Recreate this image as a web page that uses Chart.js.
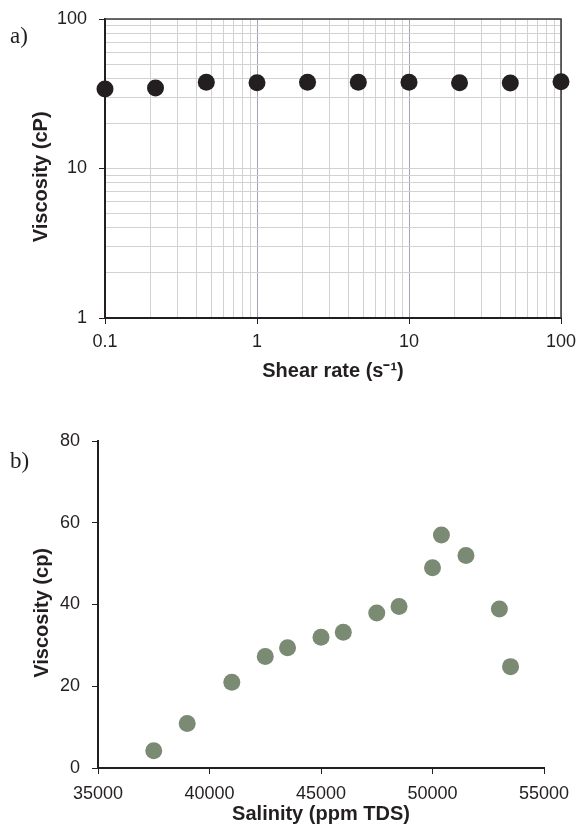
<!DOCTYPE html>
<html>
<head>
<meta charset="utf-8">
<script src="https://cdn.jsdelivr.net/npm/chart.js@4.4.0/dist/chart.umd.min.js"></script>
<style>
  body { margin: 0; background: #fff; }
  canvas { display: block; }
</style>
</head>
<body>
<canvas id="shearChart" width="577" height="400"></canvas>
<canvas id="salinityChart" width="577" height="433"></canvas>
<script>
// a) viscosity vs shear rate (log-log)
var shearRate = [0.1, 0.215, 0.464, 1, 2.15, 4.64, 10, 21.5, 46.4, 100];
var viscosityA = [34.0, 34.5, 37.7, 37.5, 37.7, 37.7, 37.7, 37.5, 37.3, 38.1];
var shearDecades = [0.1, 1, 10, 100];
var viscDecades = [1, 10, 100];

// b) viscosity vs salinity
var salinity = [37500, 39000, 41000, 42500, 43500, 45000, 46000, 47500, 48500, 50000, 50400, 51500, 53000, 53500];
var viscosityB = [4.2, 10.9, 21.0, 27.3, 29.4, 32.0, 33.2, 37.9, 39.5, 49.0, 57.0, 52.0, 38.9, 24.8];
var salinityTicks = [35000, 40000, 45000, 50000, 55000];
var viscTicksB = [0, 20, 40, 60, 80];

Chart.defaults.font.family = "'Liberation Sans', Arial, sans-serif";
Chart.defaults.color = '#231f20';

var INK = '#231f20';

// minor log gridlines: 1..9 times each decade
function logGrid(decades) {
  var out = [];
  for (var i = 0; i < decades.length - 1; i++) {
    for (var k = 1; k < 10; k++) out.push(decades[i] * k);
  }
  out.push(decades[decades.length - 1]);
  return out;
}

function isIn(list, v) {
  for (var i = 0; i < list.length; i++) {
    if (Math.abs(list[i] - v) < 1e-9) return true;
  }
  return false;
}

// fixed axis box, no extra label overhang padding
function fixBox(size) {
  return function (axis) {
    if (axis.isHorizontal()) axis.height = size; else axis.width = size;
    axis.paddingTop = 0;
    axis.paddingBottom = 0;
    axis.paddingLeft = 0;
    axis.paddingRight = 0;
  };
}

// panel letter a) / b)
var panelLabel = {
  id: 'panelLabel',
  afterDraw: function (chart, args, opts) {
    var c = chart.ctx;
    c.save();
    c.font = "23px 'Liberation Serif', 'Times New Roman', serif";
    c.fillStyle = INK;
    c.textBaseline = 'alphabetic';
    c.fillText(opts.text, opts.x, opts.y);
    c.restore();
  }
};

// top/right border of plot a)
var frame = {
  id: 'frame',
  beforeDatasetsDraw: function (chart) {
    var a = chart.chartArea, c = chart.ctx;
    c.save();
    c.strokeStyle = '#3b3b3b';
    c.lineWidth = 1.5;
    c.beginPath();
    c.moveTo(a.left, a.top);
    c.lineTo(a.right, a.top);
    c.lineTo(a.right, a.bottom);
    c.stroke();
    c.restore();
  }
};

new Chart(document.getElementById('shearChart'), {
  type: 'scatter',
  data: {
    datasets: [{
      data: shearRate.map(function (x, i) { return { x: x, y: viscosityA[i] }; }),
      backgroundColor: INK,
      borderColor: INK,
      borderWidth: 0,
      pointRadius: 8.5,
      clip: false
    }]
  },
  options: {
    responsive: false,
    animation: false,
    layout: { padding: { top: 19, right: 16, left: 0, bottom: 0 } },
    plugins: {
      legend: { display: false },
      tooltip: { enabled: false },
      panelLabel: { text: 'a)', x: 10, y: 42.5 }
    },
    scales: {
      x: {
        type: 'logarithmic',
        min: 0.1,
        max: 100,
        afterBuildTicks: function (axis) {
          axis.ticks = logGrid(shearDecades).map(function (v) { return { value: v }; });
        },
        afterFit: fixBox(82),
        border: { color: INK, width: 2 },
        grid: {
          color: function (ctx) {
            return ctx.tick && isIn(shearDecades, ctx.tick.value) ? '#a3a3b3' : '#d2d2d2';
          },
          tickColor: function (ctx) {
            return ctx.tick && isIn(shearDecades, ctx.tick.value) ? INK : 'rgba(0,0,0,0)';
          },
          tickLength: 6
        },
        ticks: {
          autoSkip: false,
          maxRotation: 0,
          padding: 7,
          font: { size: 18 },
          callback: function (v) { return isIn(shearDecades, v) ? String(v) : ''; }
        },
        title: {
          display: true,
          text: 'Shear rate (s\u207B\u00B9)',
          font: { size: 20, weight: 'bold' },
          padding: { top: 0, bottom: 17 }
        }
      },
      y: {
        type: 'logarithmic',
        min: 1,
        max: 100,
        afterBuildTicks: function (axis) {
          axis.ticks = logGrid(viscDecades).map(function (v) { return { value: v }; });
        },
        afterFit: fixBox(105),
        border: { color: INK, width: 2 },
        grid: {
          color: '#d2d2d2',
          tickColor: function (ctx) {
            return ctx.tick && isIn(viscDecades, ctx.tick.value) ? INK : 'rgba(0,0,0,0)';
          },
          tickLength: 6
        },
        ticks: {
          autoSkip: false,
          padding: 12,
          font: { size: 18 },
          callback: function (v) { return isIn(viscDecades, v) ? String(v) : ''; }
        },
        title: {
          display: true,
          text: 'Viscosity (cP)   ',
          font: { size: 20, weight: 'bold' },
          padding: { top: 29, bottom: 0 }
        }
      }
    }
  },
  plugins: [panelLabel, frame]
});

new Chart(document.getElementById('salinityChart'), {
  type: 'scatter',
  data: {
    datasets: [{
      data: salinity.map(function (x, i) { return { x: x, y: viscosityB[i] }; }),
      backgroundColor: '#7b8a73',
      borderColor: '#7b8a73',
      borderWidth: 0,
      pointRadius: 8.5,
      clip: false
    }]
  },
  options: {
    responsive: false,
    animation: false,
    layout: { padding: { top: 41, right: 33, left: 0, bottom: 0 } },
    plugins: {
      legend: { display: false },
      tooltip: { enabled: false },
      panelLabel: { text: 'b)', x: 10, y: 68.3 }
    },
    scales: {
      x: {
        type: 'linear',
        min: 35000,
        max: 55000,
        afterBuildTicks: function (axis) {
          axis.ticks = salinityTicks.map(function (v) { return { value: v }; });
        },
        afterFit: fixBox(65),
        border: { color: INK, width: 2 },
        grid: { drawOnChartArea: false, color: INK, tickColor: INK, tickLength: 6 },
        ticks: {
          autoSkip: false,
          maxRotation: 0,
          padding: 9,
          font: { size: 18 },
          callback: function (v) { return String(v); }
        },
        title: {
          display: true,
          text: 'Salinity (ppm TDS)',
          font: { size: 20, weight: 'bold' },
          padding: { top: 0, bottom: 7 }
        }
      },
      y: {
        type: 'linear',
        min: 0,
        max: 80,
        afterBuildTicks: function (axis) {
          axis.ticks = viscTicksB.map(function (v) { return { value: v }; });
        },
        afterFit: fixBox(98),
        border: { color: INK, width: 2 },
        grid: { drawOnChartArea: false, color: INK, tickColor: INK, tickLength: 6 },
        ticks: {
          autoSkip: false,
          padding: 12,
          font: { size: 18 },
          callback: function (v) { return String(v); }
        },
        title: {
          display: true,
          text: 'Viscosity (cp)   ',
          font: { size: 20, weight: 'bold' },
          padding: { top: 30, bottom: 0 }
        }
      }
    }
  },
  plugins: [panelLabel]
});
</script>
</body>
</html>
